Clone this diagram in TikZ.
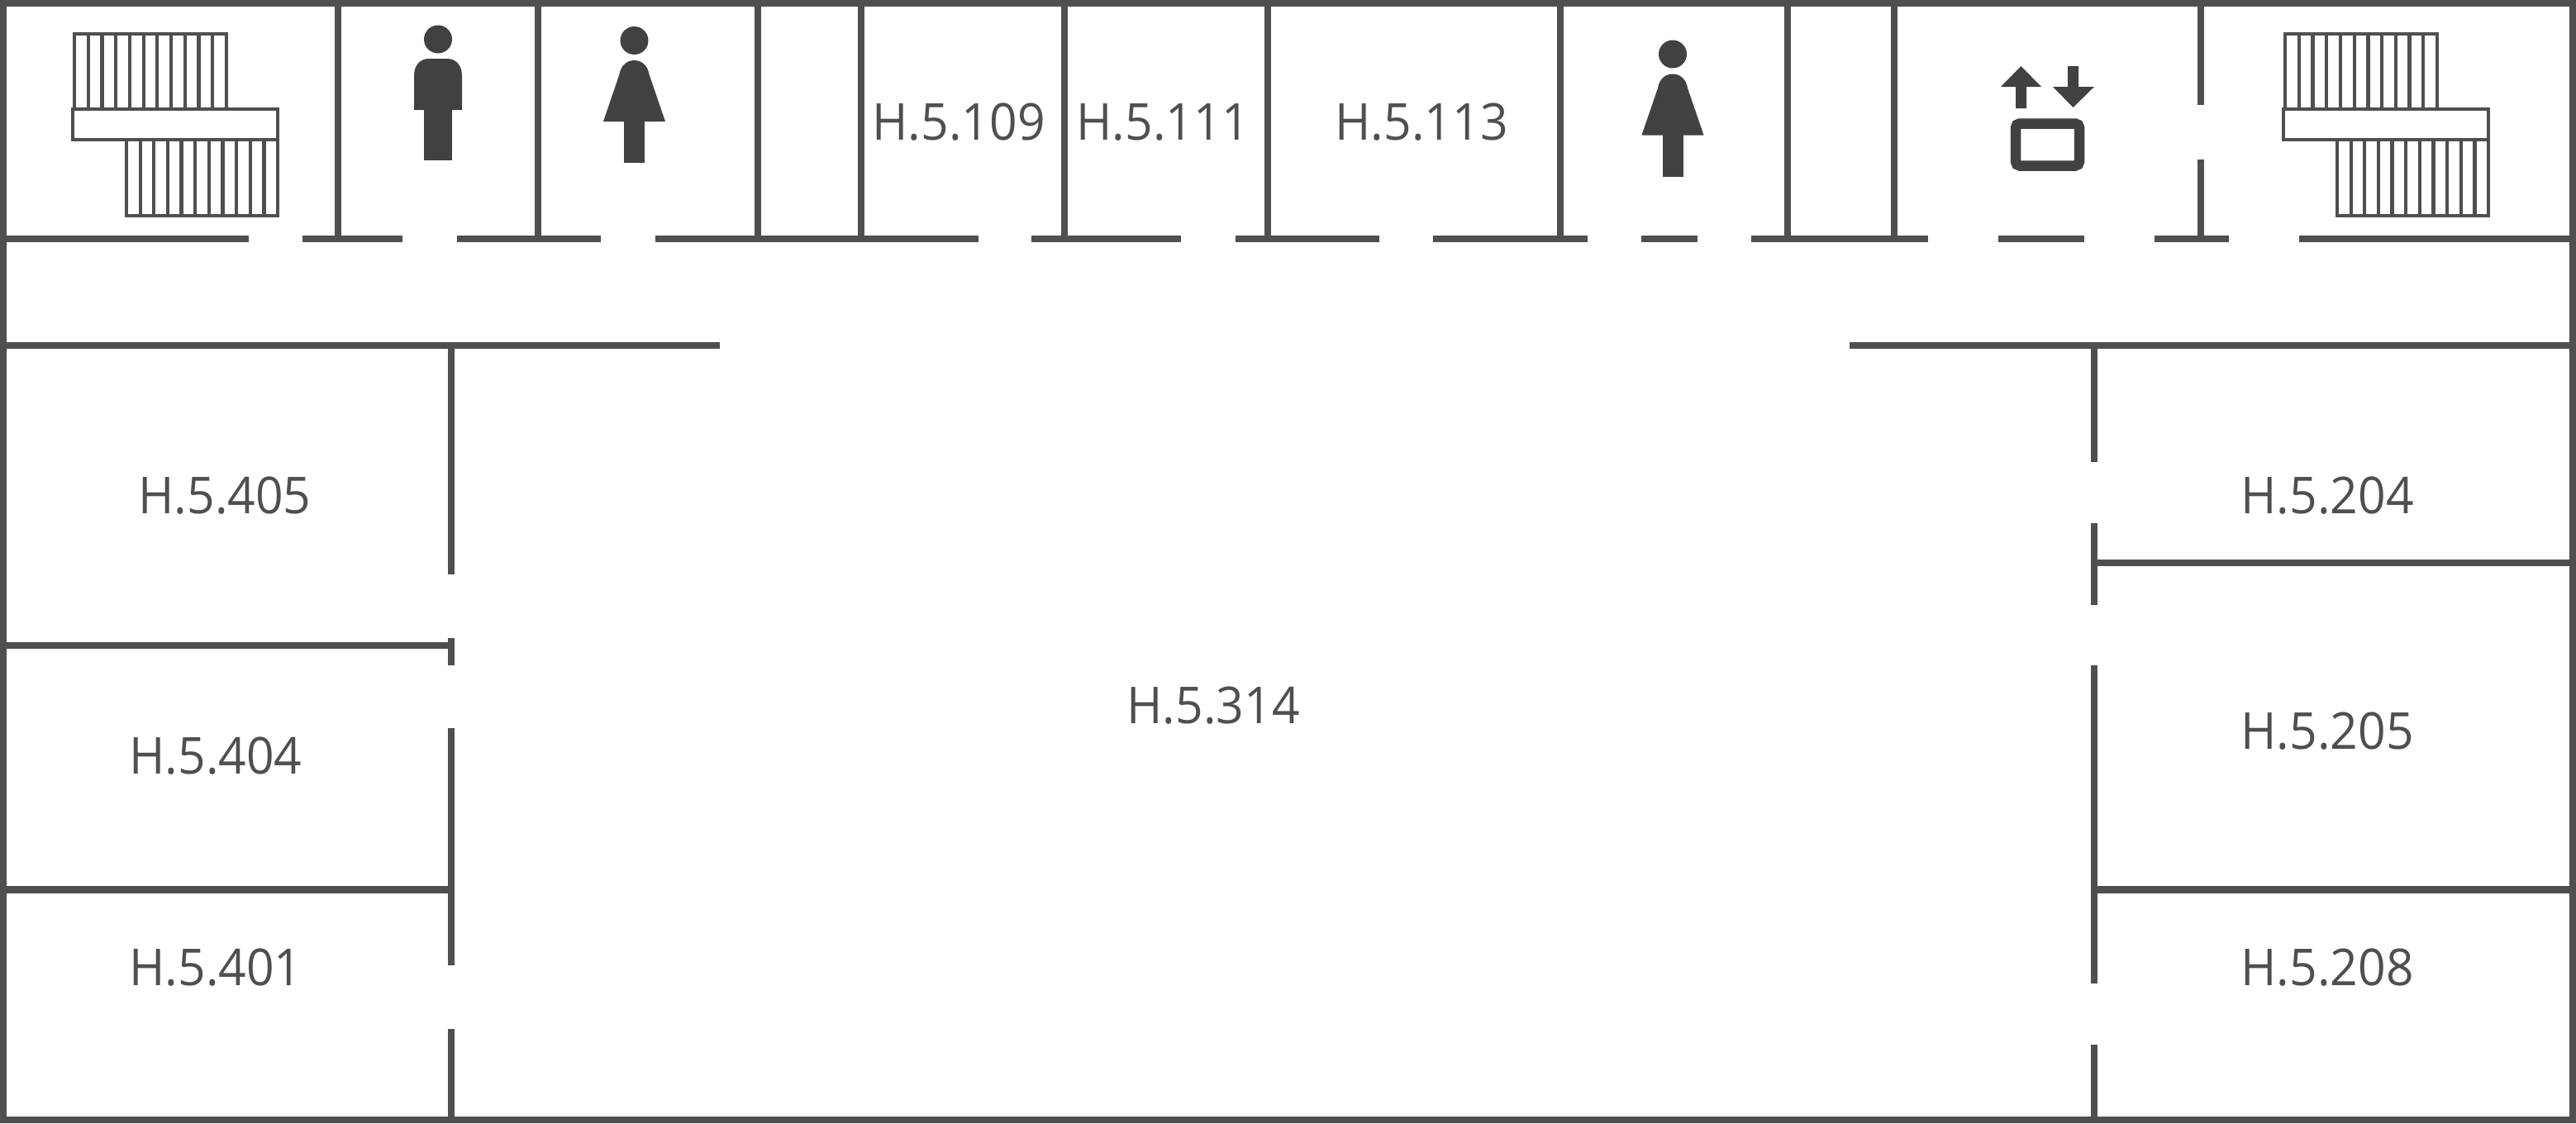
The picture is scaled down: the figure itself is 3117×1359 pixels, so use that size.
\documentclass[tikz,border=0pt]{standalone}
\usepackage{fontspec}
\setmainfont[FakeStretch=0.955]{Open Sans}
\definecolor{wallc}{HTML}{4F4F4F}
\definecolor{iconc}{HTML}{414141}
\tikzset{
  wall/.style={draw=wallc,line width=0.083cm,line cap=butt},
  thinline/.style={draw=wallc,line width=0.042cm},
  icon/.style={fill=iconc,draw=none},
  room/.style={anchor=base west,inner sep=0pt,outer sep=0pt,text=wallc,font=\fontsize{17.5pt}{20pt}\selectfont}
}
\newcommand{\stairflight}[1]{%
\begin{scope}[xshift=#1*0.01cm]
  \foreach \i in {0,...,11} {
    \draw[thinline] ({90+\i*16.73},41) -- ({90+\i*16.73},132);
    \draw[thinline] ({153+\i*16.64},169) -- ({153+\i*16.64},261);
  }
  \draw[thinline] (88,41) -- (276,41);
  \draw[thinline] (151,261) -- (338,261);
  \draw[thinline,fill=white] (88,132) rectangle (336,169);
\end{scope}}
\newcommand{\ladyicon}[2]{%
\begin{scope}[xshift=#1*0.01cm,yshift=-#2*0.01cm]
  \fill[icon] (767.5,49) ellipse (17 and 17);
  \fill[icon] (730,147) -- (749.5,90) .. controls (751,80) and (758,73) .. (767.5,73)
     .. controls (777,73) and (784,80) .. (785.5,90) -- (805,147) -- cycle;
  \fill[icon] (755,146) rectangle (780,197);
\end{scope}}
\begin{document}
\begin{tikzpicture}[x=0.01cm,y=-0.01cm]
\useasboundingbox (0,0) rectangle (3117,1359);
% outer walls
\draw[wall] (4,4) rectangle (3113,1355);
% top rooms
\foreach \x in {409,651,917,1042,1288,1534,1888,2163,2292}
  \draw[wall] (\x,4) -- (\x,289);
\draw[wall] (2663,4) -- (2663,127);
\draw[wall] (2663,193) -- (2663,289);
% corridor wall
\foreach \a/\b in {4/301,366/487,553/727,793/1184,1248/1429,1495/1669,1734/1921,1986/2054,2119/2333,2418/2522,2607/2697,2782/3113}
  \draw[wall] (\a,289) -- (\b,289);
\draw[wall] (4,418) -- (871,418);
\draw[wall] (2238,418) -- (3113,418);
% left rooms
\foreach \a/\b in {418/695,772/805,881/1168,1245/1355}
  \draw[wall] (546,\a) -- (546,\b);
\draw[wall] (4,781) -- (546,781);
\draw[wall] (4,1076.5) -- (546,1076.5);
% right rooms
\foreach \a/\b in {418/559,633/732,805/1190,1264/1355}
  \draw[wall] (2534,\a) -- (2534,\b);
\draw[wall] (2534,681) -- (3113,681);
\draw[wall] (2534,1076.5) -- (3113,1076.5);
% stairs
\stairflight{0}
\stairflight{2675}
% man
\fill[icon] (530,47.5) ellipse (17 and 17);
\fill[icon] (501,133) -- (501,92) .. controls (501,78) and (509,71) .. (519,71)
   -- (541,71) .. controls (551,71) and (559,78) .. (559,92) -- (559,133) -- cycle;
\fill[icon] (513,132) rectangle (547,194);
% women
\ladyicon{0}{0}
\ladyicon{1256.5}{16.5}
% lift
\fill[icon] (2445.5,80) -- (2470,105) -- (2452,105) -- (2452,131) -- (2439,131) -- (2439,105) -- (2421,105) -- cycle;
\fill[icon] (2508.5,130) -- (2534,105) -- (2515,105) -- (2515,80) -- (2502,80) -- (2502,105) -- (2484,105) -- cycle;
\draw[draw=iconc,line width=0.125cm,rounded corners=0.05cm] (2439,149.5) rectangle (2516,200.5);
% labels
\node[room] (r109) at (1055.5,169) {H.5.109};
\node[room] (r111) at (1302.5,169) {H.5.111};
\node[room] (r113) at (1615.5,169) {H.5.113};
\node[room] (r405) at (167.5,621) {H.5.405};
\node[room] (r404) at (156.5,936) {H.5.404};
\node[room] (r401) at (156.5,1192) {H.5.401};
\node[room] (r314) at (1363.5,875) {H.5.314};
\node[room] (r204) at (2711.5,621) {H.5.204};
\node[room] (r205) at (2711.5,906) {H.5.205};
\node[room] (r208) at (2711.5,1192) {H.5.208};
\end{tikzpicture}
\end{document}
